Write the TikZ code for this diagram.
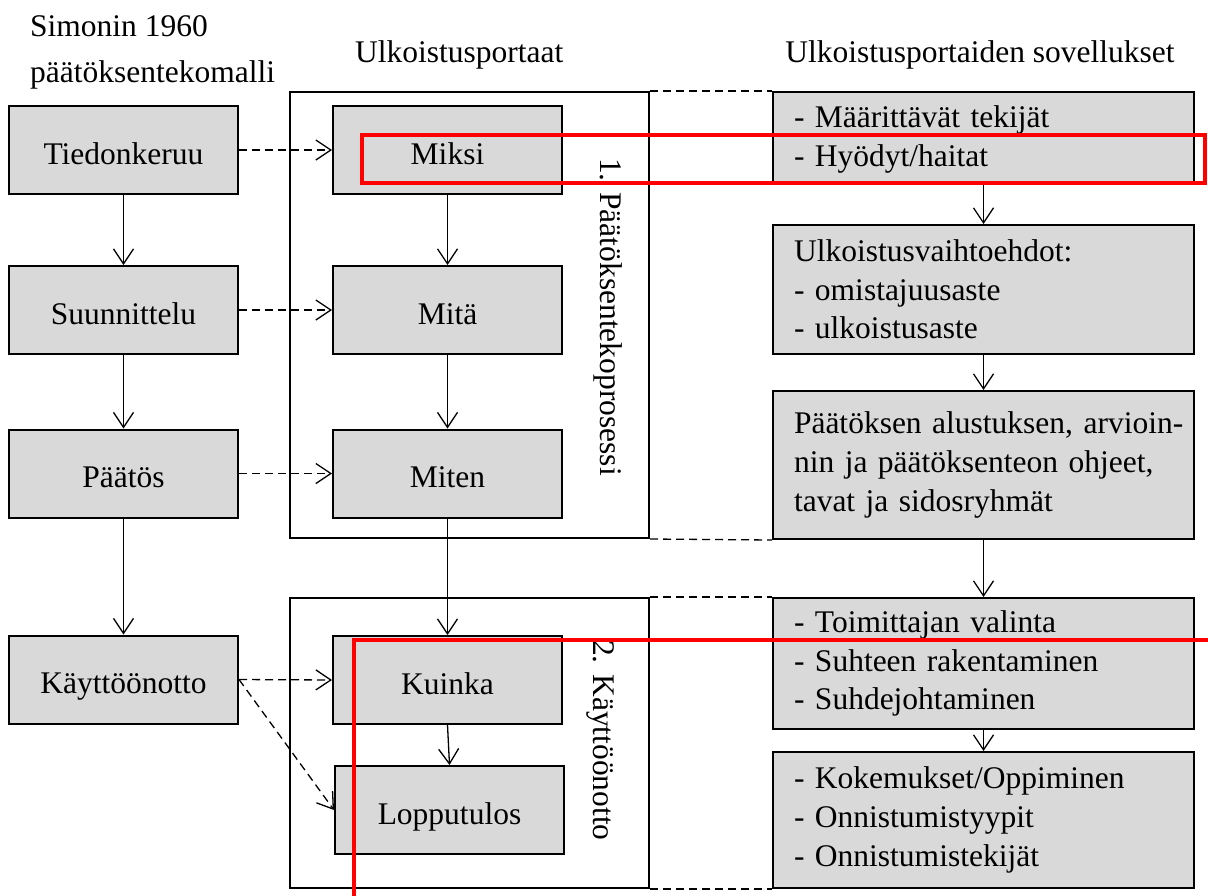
\documentclass[tikz,border=0pt]{standalone}
\usepackage{fontspec}
\setmainfont{Liberation Serif}
\usetikzlibrary{arrows.meta,backgrounds}
\begin{document}
\begin{tikzpicture}[x=1pt,y=-1pt,
  font=\fontsize{31.5}{38.7}\selectfont,
  box/.style={draw, line width=2pt, fill=black!15, inner sep=0pt},
  lbox/.style={box, minimum width=229pt, minimum height=88pt, text height=28pt, text depth=0pt},
  rbox/.style={box, minimum width=421pt, text width=379pt, align=left},
  grp/.style={draw, line width=2pt, inner sep=0pt, minimum width=359pt},
  arr/.style={line width=1.3pt, -{Straight Barb[length=15pt,width=20pt]}},
  darr/.style={arr, dash pattern=on 8pt off 5pt},
  dline/.style={line width=1.3pt, dash pattern=on 8pt off 5pt},
  redbox/.style={draw=red, line width=4pt},
  lab/.style={inner sep=0pt}]
\useasboundingbox (0,0) rectangle (1208,895);

% titles
\node[lab, anchor=base west] (t1) at (30,36) {Simonin 1960};
\node[lab, anchor=base west] (t2) at (30,82) {päätöksentekomalli};
\node[lab, anchor=base west] (t3) at (355,62) {Ulkoistusportaat};
\node[lab, anchor=base] (t4) at (980,62) {Ulkoistusportaiden sovellukset};

% group frames
\node[grp, minimum height=446pt] (g1) at (469.5,315) {};
\node[grp, minimum height=290pt] (g2) at (469.5,743) {};
\node[lab, anchor=base west, rotate=-90] (l1) at (600,158) {1. Päätöksentekoprosessi};
\node[lab, anchor=base west, rotate=-90] (l2) at (593,640) {2. Käyttöönotto};

% left column
\node[lbox] (a1) at (123.5,150) {Tiedonkeruu};
\node[lbox] (a2) at (123.5,310) {Suunnittelu};
\node[lbox] (a3) at (123.5,473.5) {Päätös};
\node[lbox] (a4) at (123.5,679.5) {Käyttöönotto};

% middle column
\node[lbox] (m1) at (447.5,150) {Miksi};
\node[lbox] (m2) at (447.5,310) {Mitä};
\node[lbox] (m3) at (447.5,473.5) {Miten};
\node[lbox] (m4) at (447.5,680) {Kuinka};
\node[lbox] (m5) at (449.5,810) {Lopputulos};

% right column
\node[rbox, minimum height=91pt] (r1) at (983.5,137.5)
  {\rule{0pt}{26pt}- Määrittävät tekijät\\- Hyödyt/haitat};
\node[rbox, minimum height=129pt] (r2) at (983.5,289.5)
  {Ulkoistusvaihtoehdot:\\- omistajuusaste\\- ulkoistusaste};
\node[rbox, minimum height=148pt] (r3) at (983.5,465)
  {\makebox[\linewidth][s]{Päätöksen alustuksen, arvioin-}\\
   \makebox[\linewidth][s]{nin ja päätöksenteon ohjeet,}\\
   tavat ja sidosryhmät};
\node[rbox, minimum height=131pt] (r4) at (983.5,663.5)
  {- Toimittajan valinta\\- Suhteen rakentaminen\\- Suhdejohtaminen};
\node[rbox, minimum height=136pt] (r5) at (983.5,820)
  {- Kokemukset/Oppiminen\\- Onnistumistyypit\\- Onnistumistekijät};

% solid arrows
\draw[arr] (a1) -- (a2);
\draw[arr] (a2) -- (a3);
\draw[arr] (a3) -- (a4);
\draw[arr] (m1) -- (m2);
\draw[arr] (m2) -- (m3);
\draw[arr] (m3) -- (m4);
\draw[arr] (m4.south) -- (m5.north);
\draw[arr] (r1) -- (r2);
\draw[arr] (r2) -- (r3);
\draw[arr] (r3) -- (r4);
\draw[arr] (r4) -- (r5);

% dashed arrows
\draw[darr] (a1.east) -- (m1.west);
\draw[darr] (a2.east) -- (m2.west);
\draw[darr] (a3.east) -- (m3.west);
\draw[darr] (a4.east) -- (m4.west);
\draw[darr] (a4.east) -- (m5.west);

% dashed guide lines
\begin{scope}[on background layer]
\draw[dline] (g1.north east) -- (r1.north west);
\draw[dline] (g1.south east) -- (r3.south west);
\draw[dline] (g2.north east) -- (r4.north west);
\draw[dline] (g2.south east) -- (r5.south west);
\end{scope}

% red highlight frames
\draw[redbox] (362,134.5) rectangle (1205,183);
\draw[redbox] (353.5,900) -- (353.5,640) -- (1215,640);
\end{tikzpicture}
\end{document}
